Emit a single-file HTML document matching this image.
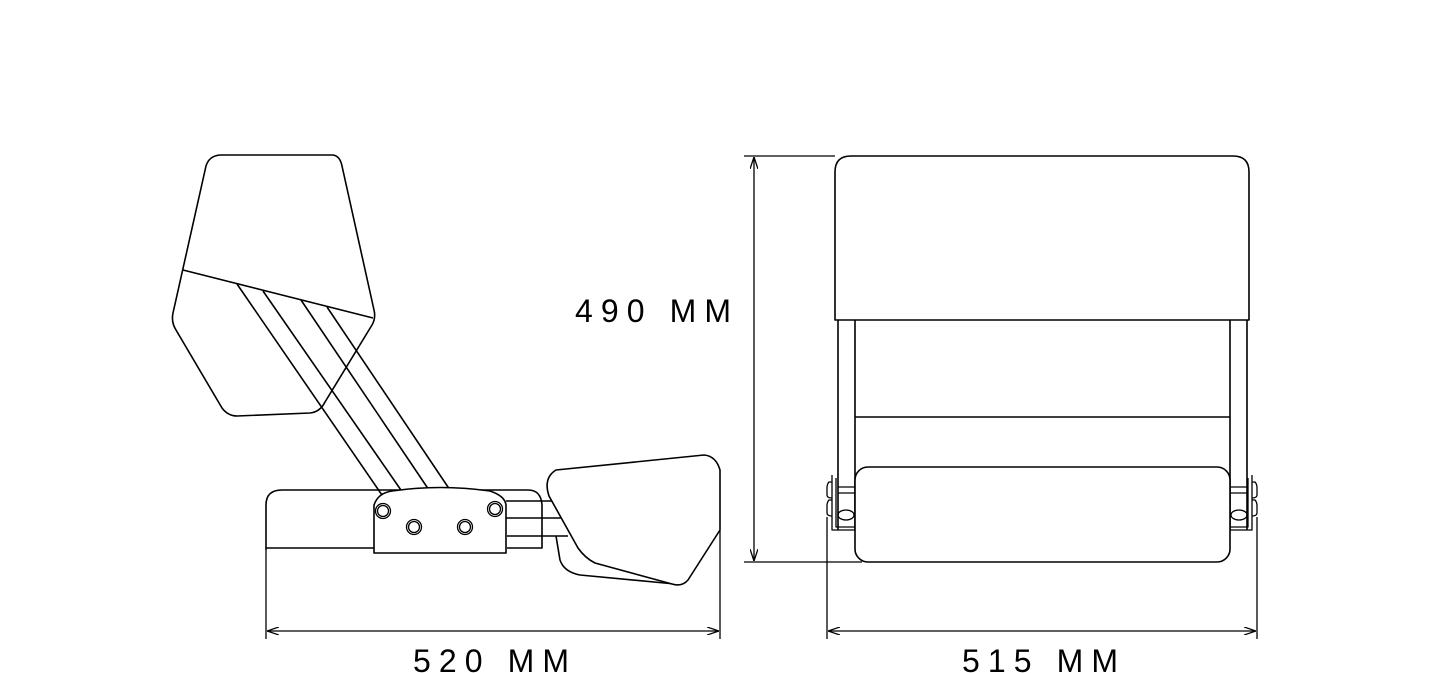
<!DOCTYPE html>
<html><head><style>html,body{margin:0;padding:0;background:#fff}svg{display:block}</style></head>
<body>
<svg width="1447" height="673" viewBox="0 0 1447 673" xmlns="http://www.w3.org/2000/svg">
<defs>
<marker id="a" viewBox="0 0 12 8" refX="12" refY="4" markerWidth="12" markerHeight="8" orient="auto-start-reverse" markerUnits="userSpaceOnUse"><path d="M0,0 L12,4 L0,8" fill="none" stroke="#000" stroke-width="1.3"/></marker>
</defs>
<g fill="none" stroke="#000" stroke-width="1.6" stroke-linejoin="round">
<path d="M220,155 L333,155 Q340,156 342,166 L374,310 Q376,318 372,325 L325,402 Q320,412 310,413 L237,416 Q228,416 222,408 L176,330 Q171,322 173,313 L206,166 Q209,156 220,155 Z" fill="#fff"/>
<line x1="183" y1="270" x2="373" y2="318"/>
<path d="M237,284 L382,495 M263,291 L403,493 M301,300 L431,493 M327,307 L452,493"/>
<path d="M266,550 L266,505 Q266,490 282,490 L528,490 Q541,490 542,505 L542,548 L507,548"/>
<line x1="266" y1="548" x2="374" y2="548"/>
<path d="M506,501 L560,501 M506,518 L565,518 M507,536 L568,536"/>
<path d="M374,553 L374,505 Q378,493 392,491 Q440,484 490,491 Q505,496 506,505 L506,553 Z" fill="#fff"/>
<g stroke-width="1.3">
<circle cx="383" cy="511" r="7.5"/><circle cx="383" cy="511" r="5.5"/>
<circle cx="414" cy="527" r="7.5"/><circle cx="414" cy="527" r="5.5"/>
<circle cx="465" cy="527" r="7.5"/><circle cx="465" cy="527" r="5.5"/>
<circle cx="495" cy="509" r="7.5"/><circle cx="495" cy="509" r="5.5"/>
</g>
<path d="M556,536 L560,560 Q564,572 580,575 L675,584"/>
<path d="M556,470 L704,455 Q716,456 720,470 L720,530 L688,580 Q682,587 672,584 L595,563 Q585,558 578,548 L549,496 Q543,478 556,470 Z" fill="#fff"/>
<line x1="266" y1="550" x2="266" y2="639" stroke-width="1.3"/>
<line x1="720" y1="530" x2="720" y2="639" stroke-width="1.3"/>
<line x1="267" y1="631" x2="719" y2="631" stroke-width="1.3" marker-start="url(#a)" marker-end="url(#a)"/>

<path d="M835,320 L835,172 Q835,156 851,156 L1233,156 Q1249,156 1249,172 L1249,320 Z" fill="#fff"/>
<path d="M838,320 L838,530 M855,320 L855,530 M1230,320 L1230,530 M1247,320 L1247,530"/>
<line x1="855" y1="417" x2="1230" y2="417"/>
<g stroke-width="1.3">
<path d="M832,475 L832,530 L855,530 M836,478 L836,527 L855,527"/>
<path d="M832,482 L829,482 Q827,484 827,488 L827,495 Q827,498 832,498 M832,500 L829,500 Q827,502 827,506 L827,513 Q827,516 832,516"/>
<path d="M838,487 L855,487 M838,493 L855,493"/>
<ellipse cx="846" cy="515" rx="8" ry="5"/>
<path d="M1252,475 L1252,530 L1230,530 M1248,478 L1248,527 L1230,527"/>
<path d="M1252,482 L1255,482 Q1257,484 1257,488 L1257,495 Q1257,498 1252,498 M1252,500 L1255,500 Q1257,502 1257,506 L1257,513 Q1257,516 1252,516"/>
<path d="M1230,487 L1247,487 M1230,493 L1247,493"/>
<ellipse cx="1239" cy="515" rx="8" ry="5"/>
</g>
<rect x="855" y="467" width="375" height="95" rx="13" fill="#fff"/>
<g stroke-width="1.3">
<line x1="744" y1="156" x2="835" y2="156"/>
<line x1="744" y1="562" x2="862" y2="562"/>
<line x1="754" y1="157" x2="754" y2="561" marker-start="url(#a)" marker-end="url(#a)"/>
<line x1="827" y1="517" x2="827" y2="639"/>
<line x1="1257" y1="517" x2="1257" y2="639"/>
<line x1="828" y1="631" x2="1256" y2="631" marker-start="url(#a)" marker-end="url(#a)"/>
</g>
</g>
<g font-family="Liberation Sans, sans-serif" font-size="32" fill="#000">
<text x="575" y="322" textLength="156" lengthAdjust="spacing">490 MM</text>
<text x="413" y="672" textLength="156" lengthAdjust="spacing">520 MM</text>
<text x="962" y="672" textLength="156" lengthAdjust="spacing">515 MM</text>
</g>
</svg>
</body></html>
